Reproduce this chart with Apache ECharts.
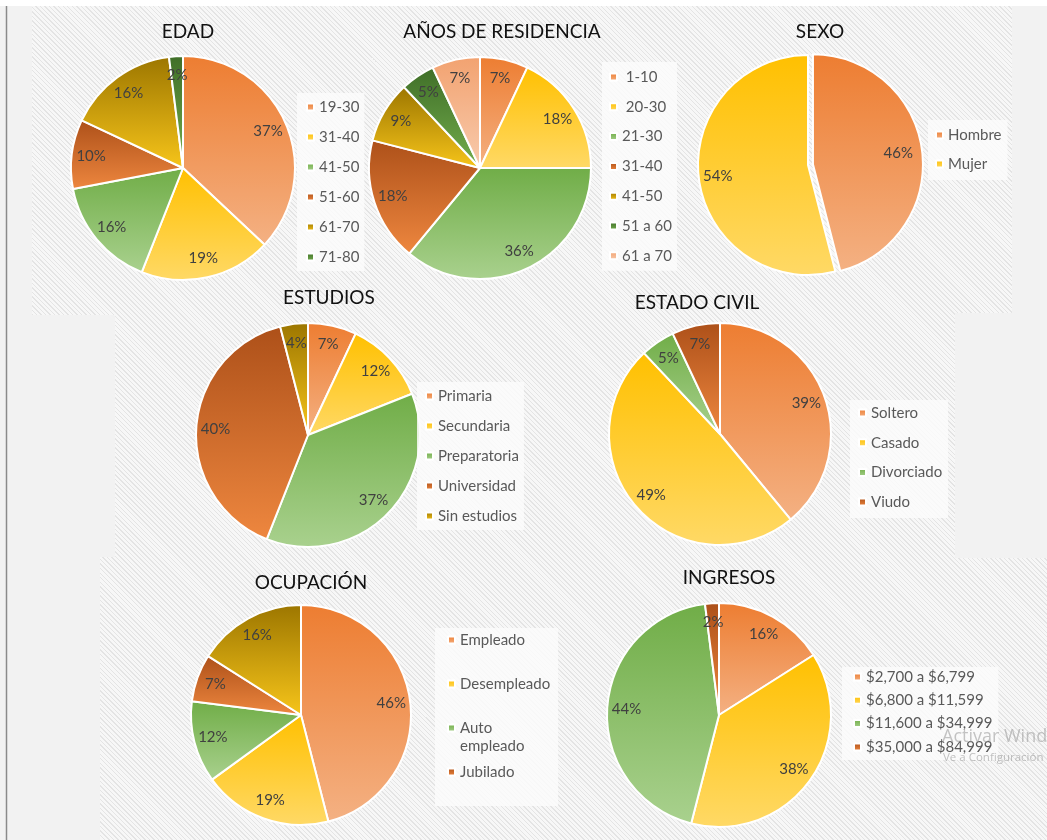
<!DOCTYPE html>
<html><head><meta charset="utf-8">
<script src="https://cdn.jsdelivr.net/npm/echarts@6/dist/echarts.min.js"></script>
<style>
html,body{margin:0;padding:0;background:#f2f2f2;}
#c{width:1047px;height:840px;background:repeating-linear-gradient(45deg,#e4e4e4 0px,#e4e4e4 1px,#f7f7f7 1px,#f7f7f7 3.2px);}
</style></head><body><div id="c"></div>
<script>
// ---------- DATA ----------
const edadCategories = ['19-30','31-40','41-50','51-60','61-70','71-80'];
const edadValues = [37,19,16,10,16,2];

const residenciaCategories = [' 1-10',' 20-30','21-30','31-40','41-50','51 a 60','61 a 70'];
const residenciaValues = [7,18,36,18,9,5,7];

const sexoCategories = ['Hombre','Mujer'];
const sexoValues = [46,54];

const estudiosCategories = ['Primaria','Secundaria','Preparatoria','Universidad','Sin estudios'];
const estudiosValues = [7,12,37,40,4];

const civilCategories = ['Soltero','Casado','Divorciado','Viudo'];
const civilValues = [39,49,5,7];

const ocupacionCategories = ['Empleado','Desempleado','Auto empleado','Jubilado',''];
const ocupacionValues = [46,19,12,7,16];

const ingresosCategories = ['$2,700 a $6,799','$6,800 a $11,599','$11,600 a $34,999','$35,000 a $84,999'];
const ingresosValues = [16,38,44,2];

// ---------- STYLE ----------
const palette = [
  ['#ED7D31','#F4B183'],
  ['#FFC000','#FFD966'],
  ['#70AD47','#A9D18E'],
  ['#AD5019','#EE873F'],
  ['#9C7600','#F7C51A'],
  ['#3F6E28','#74AE4D'],
  ['#F2A270','#F8CBAD']
];
function grad(i){
  const p = palette[i % palette.length];
  return {type:'linear',x:0,y:0,x2:0,y2:1,colorStops:[{offset:0,color:p[0]},{offset:1,color:p[1]}]};
}
const FONT = 'Lato';
const LEG_FS = 15;
const LEG_COLOR = '#595959';

// legend "groups": each entry lists which categories (by index) it shows
const charts = [
  {key:'edad', title:'EDAD', cats:edadCategories, vals:edadValues, center:[183,168], r:112, tpos:[188,32],
   legends:[{idx:[0,1,2,3,4,5], left:297, top:93, padding:[5,5,5,9], gap:12, lh:18, bg:true}]},
  {key:'res', title:'AÑOS DE RESIDENCIA', cats:residenciaCategories, vals:residenciaValues, center:[480,168], r:111, tpos:[502,32],
   legends:[{idx:[0,1,2,3,4,5,6], left:602, top:62, padding:[6,5,6,7], gap:11.8, lh:18, bg:true}]},
  {key:'sexo', title:'SEXO', cats:sexoCategories, vals:sexoValues, center:[808,165], r:110, tpos:[820,32], explode:0,
   legends:[{idx:[0,1], left:928, top:120, padding:[6,6,7,7], gap:11, lh:18, bg:true}]},
  {key:'est', title:'ESTUDIOS', cats:estudiosCategories, vals:estudiosValues, center:[308,435], r:112, tpos:[329,298],
   legends:[{idx:[0,1,2,3,4], left:417, top:382, padding:[5,5,5,8], gap:12, lh:18, bg:true}]},
  {key:'civ', title:'ESTADO CIVIL', cats:civilCategories, vals:civilValues, center:[720,434], r:111, tpos:[697,303],
   legends:[{idx:[0,1,2,3], left:850, top:400, padding:[4,6,7,8], gap:11.7, lh:18, bg:true}]},
  {key:'ocu', title:'OCUPACIÓN', cats:ocupacionCategories, vals:ocupacionValues, center:[301,715], r:110, tpos:[311,583],
   legends:[
     {idx:[0,1,2], left:435, top:628, padding:[2,8,52,12], gap:24, lh:20, bg:true},
     {idx:[3], left:447, top:762, padding:0, gap:0, lh:20, bg:false}
   ]},
  {key:'ing', title:'INGRESOS', cats:ingresosCategories, vals:ingresosValues, center:[719,715], r:112, tpos:[729,578],
   legends:[{idx:[0,1,2,3], left:842, top:667, padding:[1,6,4,11], gap:5.3, lh:18, bg:true}]}
];

const titles = [], legends = [], series = [];
charts.forEach(c => {
  titles.push({text:c.title, left:c.tpos[0], top:c.tpos[1], textAlign:'center', textVerticalAlign:'middle', padding:0,
    textStyle:{fontFamily:FONT, fontSize:19, fontWeight:'normal', color:'#111'}});
  const data = c.cats.map((n,i) => {
    const d = {name:c.key+'|'+n, value:c.vals[i], itemStyle:{color:grad(i)}};
    if (c.explode === i) d.selected = true;
    return d;
  });
  series.push({
    type:'pie', center:c.center, radius:[0,c.r], startAngle:90, clockwise:true,
    selectedMode: c.explode != null ? 'single' : false, selectedOffset:5,
    itemStyle:{borderColor:'#ffffff', borderWidth:2},
    label:{show:false}, labelLine:{show:false}, emphasis:{disabled:true}, select:{itemStyle:{}},
    data:data, z:2
  });
  series.push({
    type:'pie', center:c.center, radius:[c.r*0.6, c.r], startAngle:90, clockwise:true, silent:true,
    itemStyle:{color:'rgba(0,0,0,0)', borderWidth:0},
    label:{show:true, position:'inside', formatter:'{c}%', color:'#404040', fontFamily:FONT, fontSize:15},
    labelLine:{show:false}, emphasis:{disabled:true},
    data:c.cats.map((n,i)=>({name:c.key+'|'+n, value:c.vals[i]})), z:3
  });
  const tokenBase = {fontFamily:FONT, fontSize:LEG_FS, color:LEG_COLOR};
  c.legends.forEach(L => {
    legends.push({
      orient:'vertical', left:L.left, top:L.top, padding:L.padding, itemGap:L.gap,
      itemWidth:7, itemHeight:7, icon:'rect', selectedMode:false,
      backgroundColor: L.bg ? 'rgba(252,252,252,0.85)' : 'transparent',
      data:L.idx.map(i=>({name:c.key+'|'+c.cats[i]})),
      formatter: name => {
        const s = name.split('|')[1];
        return s === 'Auto empleado' ? '{a|Auto}\n{b|empleado}' : s;
      },
      textStyle:{fontFamily:FONT, fontSize:LEG_FS, color:LEG_COLOR, lineHeight:L.lh,
        rich:{
          a:Object.assign({lineHeight:L.lh}, tokenBase),
          b:Object.assign({lineHeight:0, verticalAlign:'top', padding:[1,0,0,0]}, tokenBase)
        }}
    });
  });
});

const graphic = [
  {type:'rect', shape:{x:0,y:0,width:1047,height:6}, style:{fill:'#ffffff'}, z:-10, silent:true},
  {type:'rect', shape:{x:0,y:6,width:32,height:309}, style:{fill:'#f2f2f2'}, z:-10, silent:true},
  {type:'rect', shape:{x:0,y:315,width:115,height:242}, style:{fill:'#f2f2f2'}, z:-10, silent:true},
  {type:'rect', shape:{x:0,y:557,width:100,height:283}, style:{fill:'#f2f2f2'}, z:-10, silent:true},
  {type:'rect', shape:{x:1012,y:6,width:35,height:307}, style:{fill:'#f2f2f2'}, z:-10, silent:true},
  {type:'rect', shape:{x:955,y:313,width:92,height:245}, style:{fill:'#f2f2f2'}, z:-10, silent:true},
  {type:'line', shape:{x1:6.5,y1:6,x2:6.5,y2:840}, style:{stroke:'#8a8a8a', lineWidth:1.5}, z:-9, silent:true},
  {type:'text', x:942, y:737, style:{text:'Activar Windows', fontFamily:'Open Sans', fontSize:18, fill:'rgba(150,150,150,0.55)', verticalAlign:'middle'}, z:50, silent:true},
  {type:'text', x:943, y:758, style:{text:'Ve a Configuración para activar Windows.', fontFamily:'Open Sans', fontSize:11.5, fill:'rgba(150,150,150,0.6)', verticalAlign:'middle'}, z:50, silent:true}
];

const chart = echarts.init(document.getElementById('c'), null, {renderer:'canvas'});
chart.setOption({
  animation:false,
  backgroundColor:'transparent',
  title:titles,
  legend:legends,
  graphic:graphic,
  series:series
});
</script>
</body></html>
